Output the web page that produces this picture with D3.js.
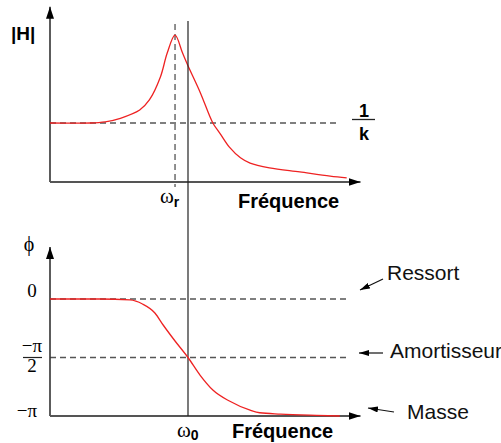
<!DOCTYPE html>
<html>
<head>
<meta charset="utf-8">
<script src="https://cdn.jsdelivr.net/npm/d3@7"></script>
<style>
  body { margin: 0; background: #fff; }
  .sans { font-family: "Liberation Sans", Arial, sans-serif; }
  .serif { font-family: "Liberation Serif", "DejaVu Serif", serif; }
</style>
</head>
<body>
<div id="chart"></div>
<script>
// |H| curve (frequency normalised to w0 = 1, magnitude normalised to 1/k = 1)
const magFreq  = [0, 0.29, 0.40, 0.51, 0.65, 0.72, 0.80, 0.85, 0.906, 0.96, 1.00, 1.09, 1.18, 1.23, 1.30, 1.38, 1.45, 1.59, 1.81, 2.03, 2.15];
const magValue = [1.00, 1.00, 1.02, 1.08, 1.22, 1.39, 1.78, 2.19, 2.49, 2.19, 1.97, 1.51, 1.00, 0.83, 0.59, 0.41, 0.32, 0.24, 0.17, 0.10, 0.07];

// phase curve, degrees
const phaseFreq  = [0, 0.36, 0.58, 0.67, 0.76, 0.82, 0.906, 1.00, 1.087, 1.18, 1.30, 1.45, 1.52, 1.67, 1.93, 2.10];
const phaseValue = [0, 0, -1.5, -7.7, -21.5, -40, -64.6, -90, -117, -140, -157, -171, -175, -177, -179, -180];

const wr = 0.906;
const w0 = 1;
const magLevel = 1;          // 1/k
const phaseLevels = [0, -90]; // Ressort, Amortisseur

const width = 501, height = 443;

const svg = d3.select("#chart").append("svg")
    .attr("width", width)
    .attr("height", height);

// scales
const x = d3.scaleLinear().domain([0, 2.25]).range([50, 360.5]);
const yMag = d3.scaleLinear().domain([0, 1]).range([182, 123]);
const yPh = d3.scaleLinear().domain([-180, 0]).range([416, 299]);

const defs = svg.append("defs");
defs.append("marker")
    .attr("id", "axArrow")
    .attr("viewBox", "0 0 12 8")
    .attr("refX", 12).attr("refY", 4)
    .attr("markerWidth", 12).attr("markerHeight", 8)
    .attr("markerUnits", "userSpaceOnUse")
    .attr("orient", "auto")
    .append("path").attr("d", "M0,0 L12,4 L0,8 Z").attr("fill", "#000");
defs.append("marker")
    .attr("id", "smArrow")
    .attr("viewBox", "0 0 10 6")
    .attr("refX", 10).attr("refY", 3)
    .attr("markerWidth", 10).attr("markerHeight", 6)
    .attr("markerUnits", "userSpaceOnUse")
    .attr("orient", "auto")
    .append("path").attr("d", "M0,0 L10,3 L0,6 Z").attr("fill", "#000");

const dash = "6,4";

// ---- top chart: |H| ----
svg.append("line")
    .attr("x1", x(0)).attr("x2", 337)
    .attr("y1", yMag(magLevel)).attr("y2", yMag(magLevel))
    .attr("stroke", "#555").attr("stroke-width", 1.3).attr("stroke-dasharray", dash);

svg.append("line")
    .attr("x1", x(wr)).attr("x2", x(wr))
    .attr("y1", 24).attr("y2", 187)
    .attr("stroke", "#555").attr("stroke-width", 1.3).attr("stroke-dasharray", dash);

// axes
svg.append("line")
    .attr("x1", x(0)).attr("y1", yMag(0))
    .attr("x2", x(0)).attr("y2", yMag(2.97))
    .attr("stroke", "#333").attr("stroke-width", 1.6)
    .attr("marker-end", "url(#axArrow)");
svg.append("line")
    .attr("x1", x(0)).attr("y1", yMag(0))
    .attr("x2", x(2.25)).attr("y2", yMag(0))
    .attr("stroke", "#555").attr("stroke-width", 2)
    .attr("marker-end", "url(#axArrow)");

const magData = magFreq.map((f, i) => ({f: f, v: magValue[i]}));
svg.append("path")
    .datum(magData)
    .attr("fill", "none")
    .attr("stroke", "#ee2222")
    .attr("stroke-width", 1.3)
    .attr("d", d3.line()
        .x(d => x(d.f))
        .y(d => yMag(d.v))
        .curve(d3.curveCatmullRom));

// ---- bottom chart: phase ----
phaseLevels.forEach(p => {
  svg.append("line")
      .attr("x1", x(0)).attr("x2", 348)
      .attr("y1", yPh(p)).attr("y2", yPh(p))
      .attr("stroke", "#555").attr("stroke-width", 1.3).attr("stroke-dasharray", dash);
});

svg.append("line")
    .attr("x1", x(0)).attr("y1", yPh(-180))
    .attr("x2", x(0)).attr("y2", yPh(80))
    .attr("stroke", "#333").attr("stroke-width", 1.6)
    .attr("marker-end", "url(#axArrow)");
svg.append("line")
    .attr("x1", x(0)).attr("y1", yPh(-180))
    .attr("x2", x(2.25)).attr("y2", yPh(-180))
    .attr("stroke", "#555").attr("stroke-width", 2)
    .attr("marker-end", "url(#axArrow)");

// w0 solid vertical, crosses both plots
svg.append("line")
    .attr("x1", x(w0)).attr("x2", x(w0))
    .attr("y1", 21).attr("y2", yPh(-180))
    .attr("stroke", "#222").attr("stroke-width", 1.2);

const phData = phaseFreq.map((f, i) => ({f: f, v: phaseValue[i]}));
svg.append("path")
    .datum(phData)
    .attr("fill", "none")
    .attr("stroke", "#ee2222")
    .attr("stroke-width", 1.3)
    .attr("d", d3.line()
        .x(d => x(d.f))
        .y(d => yPh(d.v))
        .curve(d3.curveMonotoneX));

// ---- labels ----
svg.append("text").attr("class", "sans")
    .attr("x", 11).attr("y", 40)
    .attr("font-size", 19).attr("font-weight", "bold")
    .text("|H|");

// 1/k
svg.append("text").attr("class", "sans")
    .attr("x", 364).attr("y", 117).attr("text-anchor", "middle")
    .attr("font-size", 18).attr("font-weight", "bold").text("1");
svg.append("line")
    .attr("x1", 352).attr("x2", 375).attr("y1", 119.5).attr("y2", 119.5)
    .attr("stroke", "#222").attr("stroke-width", 1.3);
svg.append("text").attr("class", "sans")
    .attr("x", 364).attr("y", 140).attr("text-anchor", "middle")
    .attr("font-size", 18).attr("font-weight", "bold").text("k");

// omega_r
const wrLab = svg.append("text").attr("x", 160).attr("y", 203);
wrLab.append("tspan").attr("class", "serif").attr("font-size", 21).text("ω");
wrLab.append("tspan").attr("class", "sans").attr("font-size", 14).attr("font-weight", "bold")
    .attr("dy", 4).text("r");

svg.append("text").attr("class", "sans")
    .attr("x", 238).attr("y", 208)
    .attr("font-size", 20).attr("font-weight", "bold").text("Fréquence");

// phase axis labels
svg.append("text").attr("class", "serif")
    .attr("x", 29).attr("y", 251).attr("text-anchor", "middle")
    .attr("font-size", 20).text("ϕ");
svg.append("text").attr("class", "serif")
    .attr("x", 32).attr("y", 297).attr("text-anchor", "middle")
    .attr("font-size", 19).text("0");
svg.append("text").attr("class", "serif")
    .attr("x", 32).attr("y", 352).attr("text-anchor", "middle")
    .attr("font-size", 19).text("−π");
svg.append("line")
    .attr("x1", 23).attr("x2", 42).attr("y1", yPh(-90)).attr("y2", yPh(-90))
    .attr("stroke", "#222").attr("stroke-width", 1.2);
svg.append("text").attr("class", "serif")
    .attr("x", 32).attr("y", 372).attr("text-anchor", "middle")
    .attr("font-size", 19).text("2");
svg.append("text").attr("class", "serif")
    .attr("x", 27).attr("y", 417).attr("text-anchor", "middle")
    .attr("font-size", 19).text("−π");

// omega_0
const w0Lab = svg.append("text").attr("x", 177).attr("y", 437);
w0Lab.append("tspan").attr("class", "serif").attr("font-size", 21).text("ω");
w0Lab.append("tspan").attr("class", "sans").attr("font-size", 14).attr("font-weight", "bold")
    .attr("dy", 3).text("0");

svg.append("text").attr("class", "sans")
    .attr("x", 232).attr("y", 438)
    .attr("font-size", 20).attr("font-weight", "bold").text("Fréquence");

// annotations
const notes = [
  {label: "Ressort",     tx: 387, ty: 280, x1: 383, y1: 279, x2: 360, y2: 290},
  {label: "Amortisseur", tx: 390, ty: 358, x1: 383, y1: 353, x2: 359, y2: 353},
  {label: "Masse",       tx: 407, ty: 419, x1: 394, y1: 412, x2: 368, y2: 408}
];
notes.forEach(n => {
  svg.append("line")
      .attr("x1", n.x1).attr("y1", n.y1).attr("x2", n.x2).attr("y2", n.y2)
      .attr("stroke", "#111").attr("stroke-width", 1.2)
      .attr("marker-end", "url(#smArrow)");
  svg.append("text").attr("class", "sans")
      .attr("x", n.tx).attr("y", n.ty)
      .attr("font-size", 21).attr("fill", "#111").text(n.label);
});
</script>
</body>
</html>
